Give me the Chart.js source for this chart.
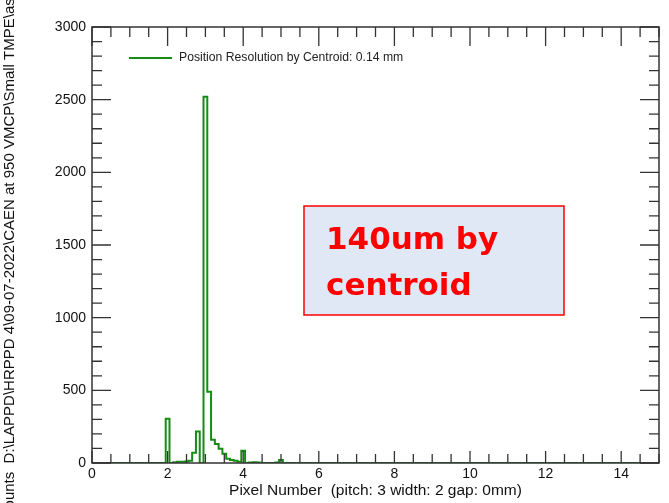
<!DOCTYPE html>
<html>
<head>
<meta charset="utf-8">
<script src="https://cdn.jsdelivr.net/npm/chart.js@4"></script>
<style>
  body { margin: 0; background: #fff; }
  canvas { display: block; }
</style>
</head>
<body>
<canvas id="myChart" width="669" height="503"></canvas>
<script>
const binCenters = [0, 1.8, 1.9, 2.0, 2.1, 2.2, 2.3, 2.4, 2.5, 2.6, 2.7, 2.8, 2.9, 3.0, 3.1, 3.2, 3.3, 3.4, 3.5, 3.6, 3.7, 3.8, 3.9, 4.0, 4.1, 4.2, 4.3, 4.4, 4.5, 4.8, 4.9, 5.0, 5.1, 5.2, 15];
const counts = [0, 0, 0, 305, 0, 5, 8, 8, 10, 15, 70, 217, 0, 2520, 490, 160, 130, 98, 64, 30, 20, 15, 8, 85, 0, 3, 5, 3, 0, 0, 3, 20, 0, 0, 0];
const xTicks = [0, 2, 4, 6, 8, 10, 12, 14];
const yTicks = [0, 500, 1000, 1500, 2000, 2500, 3000];

const seriesLabel = 'Position Resolution by Centroid: 0.14 mm';
const xTitle = 'Pixel Number  (pitch: 3 width: 2 gap: 0mm)';
const yTitle = 'Counts  D:\\LAPPD\\HRPPD 4\\09-07-2022\\CAEN at 950 VMCP\\Small TMPE\\asic_1';
const boxLines = ['140um by', 'centroid'];

const points = [];
for (let i = 0; i < binCenters.length; i++) {
    points.push({ x: binCenters[i], y: counts[i] });
}

const green = '#168c16';
const axisColor = '#333';
const tickFont = { family: '"Liberation Sans", Arial, sans-serif', size: 14 };
const titleFont = { family: '"Liberation Sans", Arial, sans-serif', size: 15.5 };
const yTitleFont = { family: '"Liberation Sans", Arial, sans-serif', size: 15 };

// frame with inward ticks on all four sides, like the original plot
const framePlugin = {
    id: 'frame',
    afterDatasetsDraw(chart) {
        const ctx = chart.ctx;
        const a = chart.chartArea;
        const xs = chart.scales.x;
        const ys = chart.scales.y;
        ctx.save();
        ctx.strokeStyle = axisColor;
        ctx.lineWidth = 1.3;
        for (let v = 0; v <= 15; v += 0.5) {
            const px = xs.getPixelForValue(v);
            const major = v % 2 === 0;
            ctx.beginPath();
            ctx.moveTo(px, a.bottom);
            ctx.lineTo(px, a.bottom - (major ? 12 : 9));
            ctx.moveTo(px, a.top);
            ctx.lineTo(px, a.top + (major ? 19 : 10));
            ctx.stroke();
        }
        for (let v = 0; v <= 3000; v += 100) {
            const py = ys.getPixelForValue(v);
            const major = v % 500 === 0;
            ctx.beginPath();
            ctx.moveTo(a.left, py);
            ctx.lineTo(a.left + (major ? 19 : 10), py);
            ctx.moveTo(a.right, py);
            ctx.lineTo(a.right - (major ? 19 : 10), py);
            ctx.stroke();
        }
        ctx.lineWidth = 1.5;
        ctx.strokeRect(a.left, a.top, a.right - a.left, a.bottom - a.top);
        ctx.restore();
    },
    afterDraw(chart) {
        const ctx = chart.ctx;
        const ds = chart.data.datasets[0];
        ctx.save();
        // legend inside the plot
        ctx.strokeStyle = ds.borderColor;
        ctx.lineWidth = 2;
        ctx.beginPath();
        ctx.moveTo(129, 58);
        ctx.lineTo(172, 58);
        ctx.stroke();
        ctx.fillStyle = '#222';
        ctx.font = '12.2px "Liberation Sans", Arial, sans-serif';
        ctx.textBaseline = 'middle';
        ctx.fillText(ds.label, 179, 58);

        // note box
        ctx.fillStyle = '#dfe8f4';
        ctx.fillRect(304, 206, 260, 109);
        ctx.strokeStyle = '#f00';
        ctx.lineWidth = 1.5;
        ctx.strokeRect(304, 206, 260, 109);
        ctx.fillStyle = '#f00';
        ctx.font = 'bold 31px "Comic Sans MS", "DejaVu Sans", sans-serif';
        ctx.textBaseline = 'alphabetic';
        ctx.fillText(boxLines[0], 326, 249);
        ctx.fillText(boxLines[1], 326, 295);
        ctx.restore();
    }
};

var ctx = document.getElementById('myChart').getContext('2d');
var myChart = new Chart(ctx, { //eslint-disable-line
    type: 'line',
    data: {
        datasets: [{
            label: seriesLabel,
            data: points,
            stepped: 'middle',
            borderColor: green,
            borderWidth: 2,
            pointRadius: 0,
            fill: false
        }]
    },
    options: {
        responsive: false,
        animation: false,
        layout: {
            padding: { top: 27, right: 10, left: 0, bottom: 0 }
        },
        plugins: {
            legend: { display: false },
            tooltip: { enabled: false }
        },
        scales: {
            x: {
                type: 'linear',
                min: 0,
                max: 15,
                afterBuildTicks: (scale) => {
                    scale.ticks = xTicks.map(v => ({ value: v }));
                },
                afterFit: (scale) => { scale.height = 40; },
                ticks: { font: tickFont, color: '#111', padding: 3, maxRotation: 0, callback: v => String(v) },
                grid: { display: false, drawTicks: false },
                border: { display: false },
                title: { display: true, text: xTitle, font: titleFont, color: '#111', padding: { top: 0, bottom: 3 } }
            },
            y: {
                min: 0,
                max: 3000,
                afterBuildTicks: (scale) => {
                    scale.ticks = yTicks.map(v => ({ value: v }));
                },
                afterFit: (scale) => { scale.width = 92; },
                ticks: { font: tickFont, color: '#111', padding: 6, callback: v => String(v) },
                grid: { display: false, drawTicks: false },
                border: { display: false },
                title: { display: true, text: yTitle, font: yTitleFont, color: '#111', padding: 1 }
            }
        }
    },
    plugins: [framePlugin]
});
</script>
</body>
</html>
